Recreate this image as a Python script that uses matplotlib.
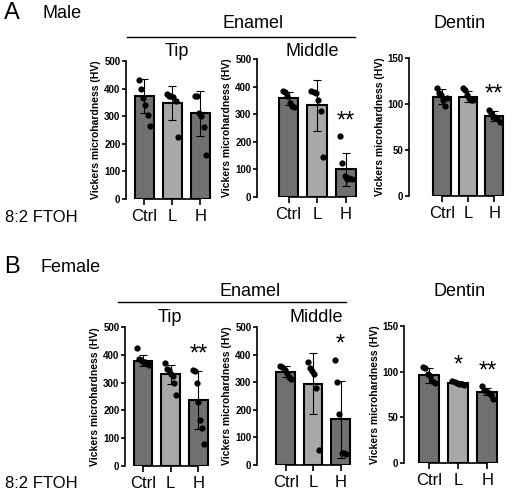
import numpy as np
import matplotlib
matplotlib.use("Agg")
from matplotlib import pyplot as plt

plt.rcParams['font.family'] = ['Liberation Sans', 'DejaVu Sans']

groups = ["Ctrl", "L", "H"]
bar_colors = ["#707070", "#a8a8a8", "#707070"]

# points, per group
male_tip = [[430, 400, 365, 340, 305, 265], [380, 375, 375, 370, 355, 225], [375, 375, 310, 300, 260, 160]]
male_tip_mean = [373, 348, 310]
male_tip_sd = [63, 60, 82]
male_mid = [[385, 380, 365, 340, 330, 325], [385, 380, 375, 350, 310, 145], [220, 125, 75, 65, 70, 65]]
male_mid_mean = [357, 332, 100]
male_mid_sd = [25, 93, 60]
male_den = [[117, 112, 110, 104, 98, 107], [117, 115, 110, 106, 104, 104], [94, 90, 86, 86, 85, 80]]
male_den_mean = [108, 108, 87]
male_den_sd = [8, 6, 5]

female_tip = [[425, 385, 380, 375, 375, 370, 365], [370, 350, 345, 330, 325, 300, 255], [345, 340, 300, 230, 165, 135, 80]]
female_tip_mean = [378, 330, 237]
female_tip_sd = [20, 35, 105]
female_mid = [[360, 355, 345, 335, 320, 310], [375, 350, 340, 330, 280, 55], [380, 300, 185, 45, 45, 40]]
female_mid_mean = [338, 295, 165]
female_mid_sd = [20, 110, 140]
female_den = [[105, 104, 97, 95, 90, 88], [90, 89, 88, 87, 86, 85], [84, 80, 79, 77, 75, 70]]
female_den_mean = [96, 88, 78]
female_den_sd = [8, 2, 4]

W, H = 520, 492
fig = plt.figure(figsize=(W / 100, H / 100), dpi=100)


def px_axes(x0, y0, x1, y1):
    return fig.add_axes([x0 / W, 1 - y1 / H, (x1 - x0) / W, (y1 - y0) / H])


def txt(x, y, s, size=12, **kw):
    fig.text(x / W, 1 - y / H, s, fontsize=size, ha=kw.pop('ha', 'center'), va=kw.pop('va', 'center'), **kw)


def panel(box, xmin, pts, means, sds, ymax, ystep, stars):
    ax = px_axes(*box)
    x = np.arange(3)
    ax.bar(x, means, width=0.68, color=bar_colors, edgecolor='black', linewidth=1.5, zorder=1)
    ax.errorbar(x, means, yerr=sds, fmt='none', ecolor='black', elinewidth=0.8, capsize=3, capthick=0.8, zorder=2)
    for i, p in enumerate(pts):
        off = np.linspace(-0.2, 0.2, len(p))
        ax.scatter(i + off, p, s=12, color='black', zorder=3)
    for i, s in enumerate(stars):
        if s:
            top = max(max(pts[i]), means[i] + sds[i])
            ax.text(i, top + ymax * 0.03, s, ha='center', va='bottom', fontsize=17)
    ax.set_xlim(xmin, 2.6)
    ax.set_ylim(0, ymax)
    ax.set_yticks(np.arange(0, ymax + 1, ystep))
    ax.set_xticks(x)
    ax.set_xticklabels(groups, fontsize=12)
    ax.tick_params(axis='y', labelsize=7, width=1.2, length=3, pad=1)
    ax.tick_params(axis='x', width=1.2, length=4)
    for t in ax.get_yticklabels():
        t.set_fontweight('bold')
    ax.set_ylabel("Vickers microhardness (HV)", fontsize=7.5, fontweight='bold', labelpad=2)
    for sp in ['top', 'right']:
        ax.spines[sp].set_visible(False)
    for sp in ['left', 'bottom']:
        ax.spines[sp].set_linewidth(1.2)
    ax.spines['bottom'].set_bounds(0, 2)
    return ax


# A Male
panel((126, 61, 217, 199), -0.65, male_tip, male_tip_mean, male_tip_sd, 500, 100, [None, None, None])
panel((257, 59, 363, 197), -1.1, male_mid, male_mid_mean, male_mid_sd, 500, 100, [None, None, "**"])
panel((409, 58, 510, 196), -1.25, male_den, male_den_mean, male_den_sd, 150, 50, [None, None, "**"])
txt(12, 13, "A", size=17)
txt(42, 13, "Male", size=13, ha='left')
txt(253, 24, "Enamel", size=13)
fig.add_artist(plt.Line2D([127 / W, 355 / W], [1 - 37 / H, 1 - 37 / H], color='black', lw=1))
txt(460, 24, "Dentin", size=13)
txt(177, 52, "Tip", size=13)
txt(312, 52, "Middle", size=13)
txt(5, 217, "8:2 FTOH", size=12, ha='left')

# B Female
panel((125, 327, 215, 466), -0.65, female_tip, female_tip_mean, female_tip_sd, 500, 100, [None, None, "**"])
panel((257, 327, 357, 465), -1.05, female_mid, female_mid_mean, female_mid_sd, 500, 100, [None, None, "*"])
panel((404, 326, 505, 463), -0.85, female_den, female_den_mean, female_den_sd, 150, 50, [None, "*", "**"])
txt(12, 267, "B", size=17)
txt(40, 267, "Female", size=13, ha='left')
txt(250, 292, "Enamel", size=13)
fig.add_artist(plt.Line2D([118 / W, 346 / W], [1 - 302 / H, 1 - 302 / H], color='black', lw=1))
txt(460, 292, "Dentin", size=13)
txt(170, 318, "Tip", size=13)
txt(316, 318, "Middle", size=13)
txt(5, 483, "8:2 FTOH", size=12, ha='left')

fig.savefig("out.png", dpi=100)
